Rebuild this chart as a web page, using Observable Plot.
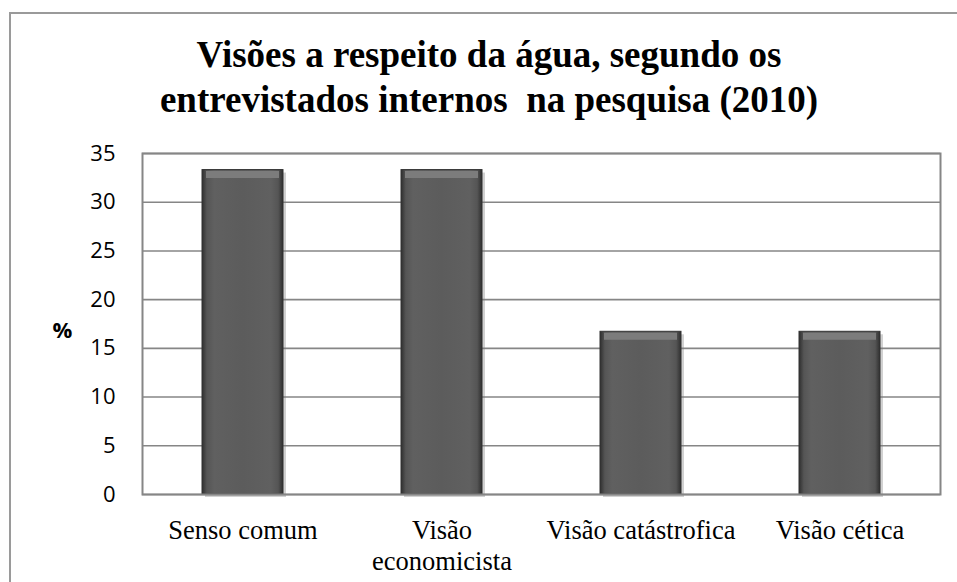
<!DOCTYPE html>
<html>
<head>
<meta charset="utf-8">
<script src="https://cdn.jsdelivr.net/npm/d3@7"></script>
<script src="https://cdn.jsdelivr.net/npm/@observablehq/plot@0.6"></script>
<style>
  html, body { margin: 0; padding: 0; background: #fff; }
  #page { position: relative; width: 957px; height: 582px; overflow: hidden; }
  #outer { position: absolute; left: 9px; top: 12px; width: 1000px; height: 700px;
           border-left: 2px solid #9a9a9a; border-top: 2px solid #9a9a9a; }
  #title { position: absolute; left: 139px; top: 33px; width: 700px; text-align: center;
           font-family: "Liberation Serif", "Times New Roman", serif; font-weight: bold;
           font-size: 37px; line-height: 44.5px; color: #000; white-space: pre; }
  #chart { position: absolute; left: 0; top: 120px; }
</style>
</head>
<body>
<div id="page">
  <div id="outer"></div>
  <div id="title">Visões a respeito da água, segundo os
entrevistados internos  na pesquisa (2010)</div>
  <div id="chart"></div>
</div>
<script>
const categories = ["Senso comum", "Visão economicista", "Visão catástrofica", "Visão cética"];
const tickLabels = ["Senso comum", "Visão\neconomicista", "Visão catástrofica", "Visão cética"];
const values = [33.3, 33.3, 16.7, 16.7];
const yTicks = [0, 5, 10, 15, 20, 25, 30, 35];
const yLabel = "%";

const data = categories.map((c, i) => ({category: c, value: values[i]}));
const labelOf = new Map(categories.map((c, i) => [c, tickLabels[i]]));

const plot = Plot.plot({
  width: 957,
  height: 462,
  marginLeft: 142,
  marginRight: 17,
  marginTop: 33,
  marginBottom: 88,
  style: {background: "transparent", overflow: "visible"},
  x: {domain: categories, paddingInner: 0.594, paddingOuter: 0.297, label: null},
  y: {domain: [0, 35], ticks: yTicks, label: null},
  marks: [
    Plot.gridY(yTicks, {stroke: "#868686", strokeOpacity: 1, strokeWidth: 1.6}),
    Plot.barY(data, {x: "category", y: "value", fill: "#7a7a7a", dx: 3, dy: 3, fillOpacity: 0.35}),
    Plot.barY(data, {x: "category", y: "value", fill: "url(#barGrad)", stroke: "#333", strokeWidth: 1}),
    Plot.tickY(data, {x: "category", y: "value", stroke: "#7c7c7c", strokeWidth: 7, dy: 4.5, insetLeft: 4, insetRight: 4}),
    Plot.frame({stroke: "#868686", strokeWidth: 2}),
    Plot.axisY({ticks: yTicks, tickSize: 0, tickPadding: 27, fontSize: 22,
                fontFamily: "'Open Sans', 'Noto Sans', sans-serif", fill: "#000", label: null}),
    Plot.axisX({tickSize: 0, tickPadding: 22, fontSize: 26.5, lineHeight: 1.18,
                fontFamily: "'Liberation Serif', 'Times New Roman', serif", fill: "#000",
                tickFormat: d => labelOf.get(d), label: null}),
    Plot.text([yLabel], {frameAnchor: "left", dx: -90, dy: 7, fontSize: 22, fontWeight: "bold",
                         fontFamily: "'Open Sans', 'Noto Sans', sans-serif", fill: "#000"})
  ]
});

const svg = d3.select(plot);
const defs = svg.insert("defs", ":first-child");
const g = defs.append("linearGradient").attr("id", "barGrad").attr("x1", 0).attr("x2", 1).attr("y1", 0).attr("y2", 0);
[[0, "#2f2f2f"], [0.06, "#555"], [0.15, "#606060"], [0.5, "#5c5c5c"], [0.85, "#606060"], [0.94, "#555"], [1, "#2f2f2f"]]
  .forEach(([o, c]) => g.append("stop").attr("offset", o).attr("stop-color", c));

document.getElementById("chart").appendChild(plot);
</script>
</body>
</html>
